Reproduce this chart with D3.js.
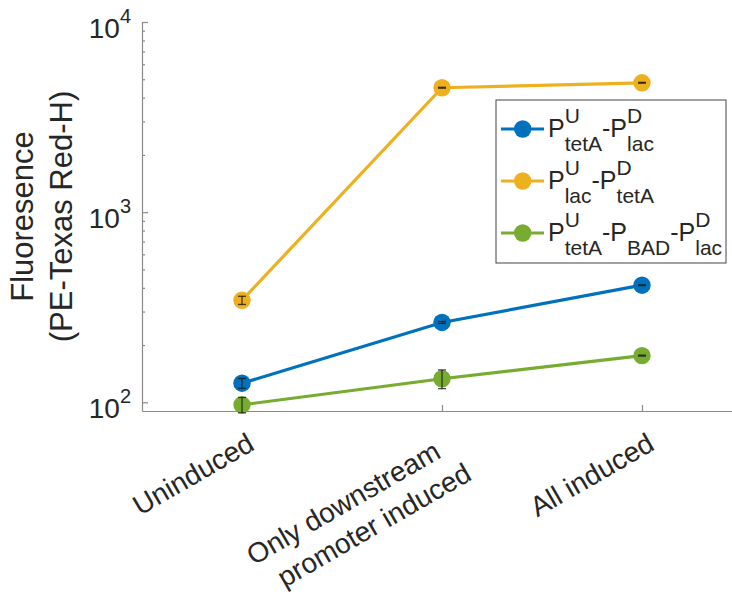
<!DOCTYPE html>
<html>
<head>
<meta charset="utf-8">
<script src="https://cdn.jsdelivr.net/npm/d3@7"></script>
<style>
	body { margin: 0; background: #fff; }
	svg { display: block; }
	text { font-family: "Liberation Sans", Arial, Helvetica, sans-serif; fill: #262626; }
</style>
</head>
<body>
<div id="chart"></div>
<script>
// categories on the x axis (one entry per line of the label, padded like a char matrix)
const categories = [["Uninduced"], ["Only downstream\u00a0\u00a0", "promoter induced"], ["All induced"]]

// fluorescence, mean and error, per category
const tetALac = [126, 263, 413]
const tetALacErr = [7.5, 3, 2]
const lacTetA = [344, 4510, 4790]
const lacTetAErr = [17, 25, 25]
const tetABadLac = [97, 133, 176]
const tetABadLacErr = [9, 15, 1]

const yTicks = [100, 1000, 10000]

// legend labels: main text with superscript / subscript pieces
const tetALacLabel = [{t: "P", sup: "U", sub: "tetA"}, {t: "-P", sup: "D", sub: "lac"}]
const lacTetALabel = [{t: "P", sup: "U", sub: "lac"}, {t: "-P", sup: "D", sub: "tetA"}]
const tetABadLacLabel = [{t: "P", sup: "U", sub: "tetA"}, {t: "-P", sub: "BAD"}, {t: "-P", sup: "D", sub: "lac"}]

const series = [
	{values: tetALac, err: tetALacErr, color: "#0072BD", label: tetALacLabel},
	{values: lacTetA, err: lacTetAErr, color: "#EDB120", label: lacTetALabel},
	{values: tetABadLac, err: tetABadLacErr, color: "#77AC30", label: tetABadLacLabel}
]

const svgWidth = 732, svgHeight = 601
const plotLeft = 142, plotTop = 22, plotBottom = 411

let svg = d3.select("#chart")
	.append("svg")
	.attr("width", svgWidth)
	.attr("height", svgHeight)

var x = d3.scaleLinear()
	.domain([0.5, 3.5])
	.range([plotLeft, plotLeft + 600])

var y = d3.scaleLog()
	.domain([90, 10000])
	.range([plotBottom, plotTop])

// axes (ticks point inward)
let axisColor = "#8a8a8a"

let xAxis = svg.append("g")
	.attr("transform", "translate(0, " + plotBottom + ")")
	.call(d3.axisBottom(x).tickValues([1, 2, 3]).tickSize(-6).tickSizeOuter(0).tickFormat(""))
let yAxis = svg.append("g")
	.attr("transform", "translate(" + plotLeft + ", 0)")
	.call(d3.axisLeft(y).tickValues(yTicks).tickSize(-6).tickSizeOuter(0).tickFormat(""))

let minor = []
for (let d = 100; d < 10000; d *= 10)
	for (let k = 2; k <= 9; k++) minor.push(k * d)
let yMinor = svg.append("g")
	.attr("transform", "translate(" + plotLeft + ", 0)")
	.call(d3.axisLeft(y).tickValues(minor).tickSize(-3).tickFormat(""))
yMinor.select(".domain").remove()

svg.selectAll(".domain, .tick line")
	.attr("stroke", axisColor)
	.attr("stroke-width", 1.2)

// y tick labels 10^n
yTicks.forEach(v => {
	let t = svg.append("text")
		.attr("x", 131)
		.attr("y", y(v) + 16)
		.attr("text-anchor", "end")
		.attr("font-size", 28)
	t.append("tspan").text("10")
	t.append("tspan").attr("dy", -15).attr("font-size", 20).text(Math.round(Math.log10(v)))
})

// x tick labels, rotated
categories.forEach((lines, i) => {
	let t = svg.append("text")
		.attr("transform", "translate(" + (x(i + 1) + 14) + ", " + (plotBottom + 38) + ") rotate(-30)")
		.attr("text-anchor", "end")
		.attr("font-size", 28)
	lines.forEach((line, j) => {
		t.append("tspan").attr("x", 0).attr("dy", j == 0 ? 0 : 34.6).text(line)
	})
})

// y axis label
let yl = svg.append("text")
	.attr("transform", "translate(33, " + ((plotTop + plotBottom) / 2) + ") rotate(-90)")
	.attr("text-anchor", "middle")
	.attr("font-size", 31)
yl.append("tspan").attr("x", 0).text("Fluoresence")
yl.append("tspan").attr("x", 0).attr("dy", 38.7).text("(PE-Texas Red-H)")

// series
series.forEach(s => {
	let g = svg.append("g")
	let pts = s.values.map((v, i) => ({i: i + 1, v: v, e: s.err[i]}))
	g.append("path")
		.datum(pts)
		.attr("fill", "none")
		.attr("stroke", s.color)
		.attr("stroke-width", 3.2)
		.attr("d", d3.line().x(d => x(d.i)).y(d => y(d.v)))
	g.selectAll("circle")
		.data(pts)
		.enter()
		.append("circle")
		.attr("cx", d => x(d.i))
		.attr("cy", d => y(d.v))
		.attr("r", 8.7)
		.attr("fill", s.color)
	// error bars
	let eb = g.selectAll("g.err")
		.data(pts)
		.enter()
		.append("g")
		.attr("stroke", "#1a1a1a")
		.attr("stroke-opacity", 0.8)
		.attr("stroke-width", 1.3)
	eb.append("line")
		.attr("x1", d => x(d.i)).attr("x2", d => x(d.i))
		.attr("y1", d => y(d.v - d.e)).attr("y2", d => y(d.v + d.e))
	eb.append("line")
		.attr("x1", d => x(d.i) - 4).attr("x2", d => x(d.i) + 4)
		.attr("y1", d => y(d.v - d.e)).attr("y2", d => y(d.v - d.e))
	eb.append("line")
		.attr("x1", d => x(d.i) - 4).attr("x2", d => x(d.i) + 4)
		.attr("y1", d => y(d.v + d.e)).attr("y2", d => y(d.v + d.e))
})

// text with stacked super/subscripts
function richText(g, x0, y0, parts) {
	let cx = x0
	parts.forEach(p => {
		let m = g.append("text").attr("x", cx).attr("y", y0).attr("font-size", 25).text(p.t)
		cx += m.node().getComputedTextLength()
		let w = 0
		if (p.sup) {
			let s = g.append("text").attr("x", cx).attr("y", y0 - 14).attr("font-size", 21).text(p.sup)
			w = Math.max(w, s.node().getComputedTextLength())
		}
		if (p.sub) {
			let s = g.append("text").attr("x", cx).attr("y", y0 + 14).attr("font-size", 21).text(p.sub)
			w = Math.max(w, s.node().getComputedTextLength())
		}
		cx += w
	})
}

// legend
let legend = svg.append("g")
	.attr("transform", "translate(496, 100)")
legend.append("rect")
	.attr("width", 230)
	.attr("height", 163)
	.attr("fill", "#fff")
	.attr("stroke", "#444")
	.attr("stroke-width", 1)

series.forEach((s, i) => {
	let row = legend.append("g")
		.attr("transform", "translate(0, " + (29 + i * 52) + ")")
	row.append("line")
		.attr("x1", 5).attr("x2", 48)
		.attr("stroke", s.color)
		.attr("stroke-width", 3.2)
	row.append("circle")
		.attr("cx", 26.7)
		.attr("r", 8.7)
		.attr("fill", s.color)
	richText(row, 52, 7.5, s.label)
})
</script>
</body>
</html>
